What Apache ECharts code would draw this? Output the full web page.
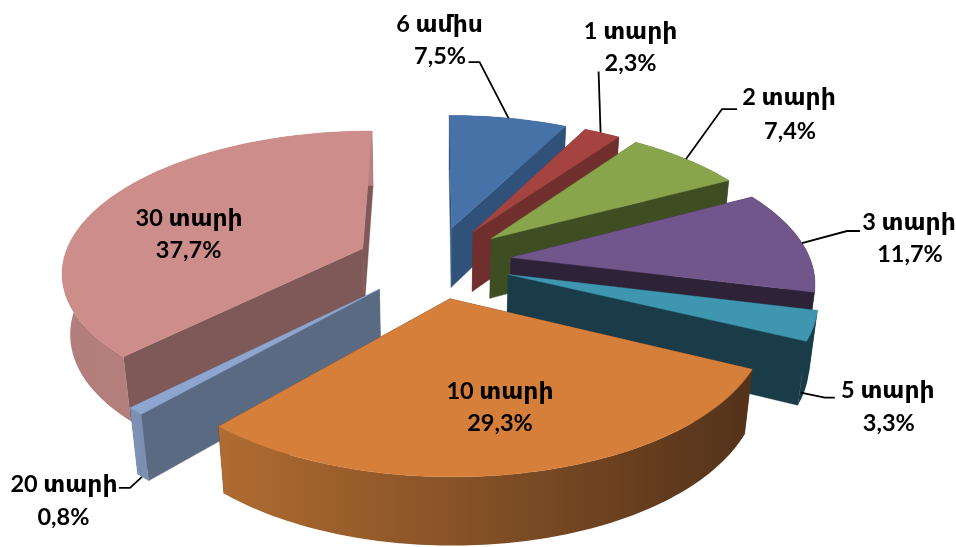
<!DOCTYPE html>
<html><head><meta charset="utf-8">
<style>html,body{margin:0;padding:0;background:#fff}#c{width:956px;height:547px}</style>
<script src="https://cdn.jsdelivr.net/npm/echarts@6/dist/echarts.min.js"></script>
</head><body><div id="c"></div>
<script>
const categories = ['6 ամիս','1 տարի','2 տարի','3 տարի','5 տարի','10 տարի','20 տարի','30 տարի'];
const shares = [7.5,2.3,7.4,11.7,3.3,29.3,0.8,37.7];
const topColors = ['#4672a8','#a54340','#88a54c','#71568c','#3e96b0','#d67f3a','#8ea6cf','#cd8d8b'];
const radialColors = ['#30527a','#702f2c','#3f4d22','#2e2238','#1a3c48','#55331a','#5a6a82','#7e5957'];
const arcColors = [['#30527a','#30527a'],['#702f2c','#702f2c'],['#3f4d22','#3f4d22'],['#2e2238','#2e2238'],['#1a3c48','#1a3c48'],['#b06c31','#53321a'],['#7f93b6','#7b8fb2'],['#b37d7b','#b78280']];
// paint order, back to front
const paintOrder = [0,1,2,3,4,7,6,5];

// view model of the tilted pie
const view = {cx:434, cy:262, A:300, B:139, k:0.15, explode:0.26, C:62, m:0.022};
function project(X,Y,Z){
  const w = 1 + view.k*Y + view.m*Z;
  return [view.cx + view.A*X/w, view.cy + (-view.B*Y + view.C*Z)/w];
}
const total = shares.reduce((a,b)=>a+b,0);
const spans = []; let acc = 0;
shares.forEach(v=>{ spans.push([acc/total*2*Math.PI,(acc+v)/total*2*Math.PI]); acc+=v; });
function world(i,r,ang){
  const mid=(spans[i][0]+spans[i][1])/2;
  return [view.explode*Math.sin(mid)+r*Math.sin(ang), view.explode*Math.cos(mid)+r*Math.cos(ang)];
}
function pt(i,r,ang,Z){ const p=world(i,r,ang); return project(p[0],p[1],Z); }
function arcAngles(i){
  const a=[],n=Math.max(4,Math.ceil((spans[i][1]-spans[i][0])/0.02));
  for(let j=0;j<=n;j++) a.push(spans[i][0]+(spans[i][1]-spans[i][0])*j/n);
  return a;
}
function poly(points,fill,z2){
  return {type:'polygon',shape:{points},z2,style:{fill,stroke:fill,lineWidth:0.4}};
}
function sliceItem(params,api){
  const i = api.value(0), angs = arcAngles(i), out = [], base = params.dataIndex*10;
  const a0=spans[i][0], a1=spans[i][1];
  const wall=(ang)=>poly([pt(i,0,0,0),pt(i,1,ang,0),pt(i,1,ang,1),pt(i,0,0,1)],radialColors[i],base+1);
  out.push(wall(a0)); out.push(wall(a1));
  const arcTop=angs.map(a=>pt(i,1,a,0)), arcBot=angs.map(a=>pt(i,1,a,1)).reverse();
  const xs=arcTop.map(p=>p[0]), xa=Math.min(...xs), xb=Math.max(...xs);
  const gradient=new echarts.graphic.LinearGradient(xa,0,xb,0,[{offset:0,color:arcColors[i][0]},{offset:1,color:arcColors[i][1]}],true);
  out.push({type:'polygon',shape:{points:arcTop.concat(arcBot)},z2:base+2,style:{fill:gradient}});
  out.push(poly([pt(i,0,0,0)].concat(arcTop),topColors[i],base+3));
  return {type:'group',children:out};
}

// annotation layout: anchor on the slice (fraction along arc, radius, depth), offsets in px from the anchor
const annotations = [
 {t:0.50,r:1.00,z:0,leader:[[-29,-56],[-40,-56]],name:[-69,-94],val:[-68.5,-62]},
 {t:0.45,r:1.00,z:0,leader:[[-2,-61]],name:[30,-101],val:[30,-69]},
 {t:0.50,r:1.00,z:0,leader:[[36,-50],[51,-50]],name:[103,-62],val:[104,-28]},
 {t:0.52,r:1.00,z:0,leader:[[45,-12],[58,-12]],name:[107,-20.5],val:[108,11.5]},
 {t:0.90,r:1.00,z:0.85,leader:[[24,5],[34,5]],name:[87,-2],val:[88,31]},
 {t:0.50,r:0.50,z:0,leader:null,name:[15.5,13],val:[15.5,45]},
 {t:0.60,r:1.00,z:1,leader:[[-12,11],[-23,11]],name:[-78,8],val:[-78.5,41]},
 {t:0.50,r:0.60,z:0,leader:null,name:[-17,-1],val:[-17.5,31]}
];
const font='bold 23.5px Lato, "DejaVu Sans", sans-serif';
function labelItem(params,api){
  const i=api.value(0), a=annotations[i];
  const ang=spans[i][0]+(spans[i][1]-spans[i][0])*a.t;
  const p=pt(i,a.r,ang,a.z), out=[];
  if(a.leader){
    out.push({type:'polyline',z2:1005,shape:{points:[p].concat(a.leader.map(d=>[p[0]+d[0],p[1]+d[1]]))},style:{fill:null,stroke:'#000',lineWidth:1.8}});
  }
  const txt=(s,d)=>({type:'text',z2:1006,style:{text:s,x:p[0]+d[0],y:p[1]+d[1],font,fill:'#000',textAlign:'center',textVerticalAlign:'middle'}});
  out.push(txt(categories[i],a.name));
  out.push(txt(shares[i].toFixed(1).replace('.',',')+'%',a.val));
  return {type:'group',children:out};
}
const chart=echarts.init(document.getElementById('c'),null,{renderer:'canvas'});
chart.setOption({
  animation:false,backgroundColor:'#fff',
  series:[
   {type:'custom',coordinateSystem:'none',renderItem:sliceItem,data:paintOrder.map(i=>[i,shares[i]]),z:1,silent:true},
   {type:'custom',coordinateSystem:'none',renderItem:labelItem,data:categories.map((c,i)=>[i,shares[i],c]),z:2,silent:true}
  ]
});
</script></body></html>
